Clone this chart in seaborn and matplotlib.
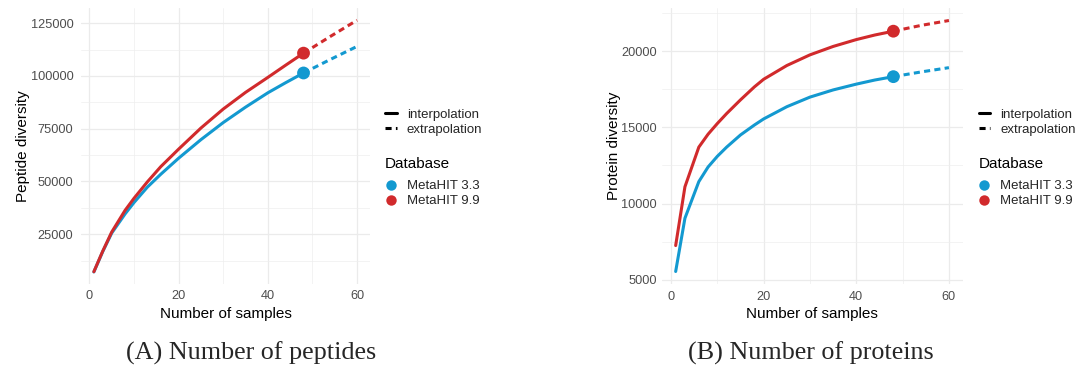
import matplotlib
matplotlib.use("Agg")
import matplotlib.pyplot as plt
import seaborn as sns
import pandas as pd
from matplotlib.lines import Line2D

# ---------------- data ----------------
pep_samples_interp = [1, 3, 5, 8, 10, 13, 16, 20, 25, 30, 35, 40, 44, 48]
pep_33_interp = [7100, 16800, 25500, 34600, 40000, 47300, 53400, 61000, 69800, 77900, 85200, 92000, 96800, 101400]
pep_99_interp = [7200, 17000, 26000, 36300, 42000, 49800, 57000, 65300, 75300, 84300, 92200, 99300, 105100, 110800]

prot_samples_interp = [1, 3, 6, 8, 10, 12, 15, 18, 20, 25, 30, 35, 40, 44, 48]
prot_33_interp = [5550, 9040, 11440, 12400, 13100, 13700, 14500, 15150, 15550, 16350, 16980, 17450, 17830, 18100, 18320]
prot_99_interp = [7250, 11100, 13700, 14550, 15250, 15900, 16800, 17650, 18150, 19050, 19750, 20300, 20750, 21050, 21300]

samples_extrap = [48, 54, 60]
pep_33_extrap = [101400, 107800, 114000]
pep_99_extrap = [110800, 118700, 126400]
prot_33_extrap = [18320, 18630, 18910]
prot_99_extrap = [21300, 21680, 22000]

observed_samples = 48
databases = ["MetaHIT 3.3", "MetaHIT 9.9"]
methods = ["interpolation", "extrapolation"]
captions = ["(A) Number of peptides", "(B) Number of proteins"]
ylabels = ["Peptide diversity", "Protein diversity"]

colors = {"MetaHIT 3.3": "#1399D0", "MetaHIT 9.9": "#D12A2C"}


def build(xi, v33i, v33e, v99i, v99e):
    rows = []
    for db, vi, ve in [("MetaHIT 3.3", v33i, v33e), ("MetaHIT 9.9", v99i, v99e)]:
        for x, y in zip(xi, vi):
            rows.append((x, y, db, "interpolation"))
        for x, y in zip(samples_extrap, ve):
            rows.append((x, y, db, "extrapolation"))
    return pd.DataFrame(rows, columns=["samples", "diversity", "Database", "method"])


df_pep = build(pep_samples_interp, pep_33_interp, pep_33_extrap, pep_99_interp, pep_99_extrap)
df_prot = build(prot_samples_interp, prot_33_interp, prot_33_extrap, prot_99_interp, prot_99_extrap)

# ---------------- plot ----------------
sns.set_style("white")
plt.rcParams["font.family"] = ["Liberation Sans", "DejaVu Sans"]

W, H = 1077, 367
fig = plt.figure(figsize=(W / 100, H / 100), dpi=100)
axes_px = [(80.7, 8, 370.2, 283.5), (662, 8, 962.6, 284)]
ylims = [(1620, 132200), (4730, 22820)]
ymajor = [[25000, 50000, 75000, 100000, 125000], [5000, 10000, 15000, 20000]]
yminor = [[12500, 37500, 62500, 87500, 112500], [7500, 12500, 17500, 22500]]
ytick_pad = [5.3, 3.6]
legend_x = [385, 978.5]
caption_x = [251, 811]

for i, df in enumerate([df_pep, df_prot]):
    x0, y0, x1, y1 = axes_px[i]
    ax = fig.add_axes([x0 / W, 1 - y1 / H, (x1 - x0) / W, (y1 - y0) / H])
    sns.lineplot(data=df, x="samples", y="diversity", hue="Database", style="method",
                 style_order=methods, hue_order=databases, palette=colors,
                 dashes={"interpolation": "", "extrapolation": (2, 1.4)},
                 linewidth=2.2, ax=ax, legend=False, sort=True, estimator=None)
    obs = df[(df["samples"] == observed_samples) & (df["method"] == "interpolation")]
    sns.scatterplot(data=obs, x="samples", y="diversity", hue="Database",
                    hue_order=databases, palette=colors, s=85, linewidth=0,
                    ax=ax, legend=False, zorder=5)
    ax.set_xlim(-1.95, 62.95)
    ax.set_ylim(*ylims[i])
    ax.set_xticks([0, 20, 40, 60])
    ax.set_xticks([10, 30, 50], minor=True)
    ax.set_yticks(ymajor[i])
    ax.set_yticks(yminor[i], minor=True)
    ax.yaxis.set_major_formatter(matplotlib.ticker.FuncFormatter(lambda v, p: f"{int(v)}"))
    ax.grid(which="major", color="#EBEBEB", linewidth=0.9)
    ax.grid(which="minor", color="#EEEEEE", linewidth=0.5)
    ax.set_axisbelow(True)
    for s in ax.spines.values():
        s.set_visible(False)
    ax.tick_params(which="both", length=0, labelsize=9.2, labelcolor="#4D4D4D")
    ax.tick_params(axis="x", pad=5)
    ax.tick_params(axis="y", pad=ytick_pad[i])
    ax.set_xlabel("Number of samples", fontsize=11, color="black", labelpad=3)
    ax.set_ylabel(ylabels[i], fontsize=11, color="black", labelpad=0.5)

    # legends
    lx = legend_x[i]
    h1 = [Line2D([], [], color="black", lw=2.2, linestyle="-"),
          Line2D([], [], color="black", lw=2.2, dashes=(2, 1.4))]
    fig.legend(h1, methods, loc="center left",
               bbox_to_anchor=(lx / W, 1 - 122.2 / H),
               frameon=False, fontsize=9.5, handlelength=0.9,
               handletextpad=0.75, borderpad=0, borderaxespad=0,
               labelspacing=0.2)
    fig.text(lx / W, 1 - 164 / H, "Database", ha="left", va="center",
             fontsize=11, color="black")
    h2 = [Line2D([], [], color=colors[d], marker="o", markersize=7.5, lw=0, markeredgewidth=0)
          for d in databases]
    fig.legend(h2, databases, loc="center left",
               bbox_to_anchor=(lx / W, 1 - 193.8 / H),
               frameon=False, fontsize=9.5, handlelength=0.9,
               handletextpad=0.75, borderpad=0, borderaxespad=0,
               labelspacing=0.2)

    fig.text(caption_x[i] / W, 1 - 353 / H, captions[i], ha="center", va="center",
             family="Liberation Serif", fontsize=18.8)

fig.savefig("out.png", dpi=100)
